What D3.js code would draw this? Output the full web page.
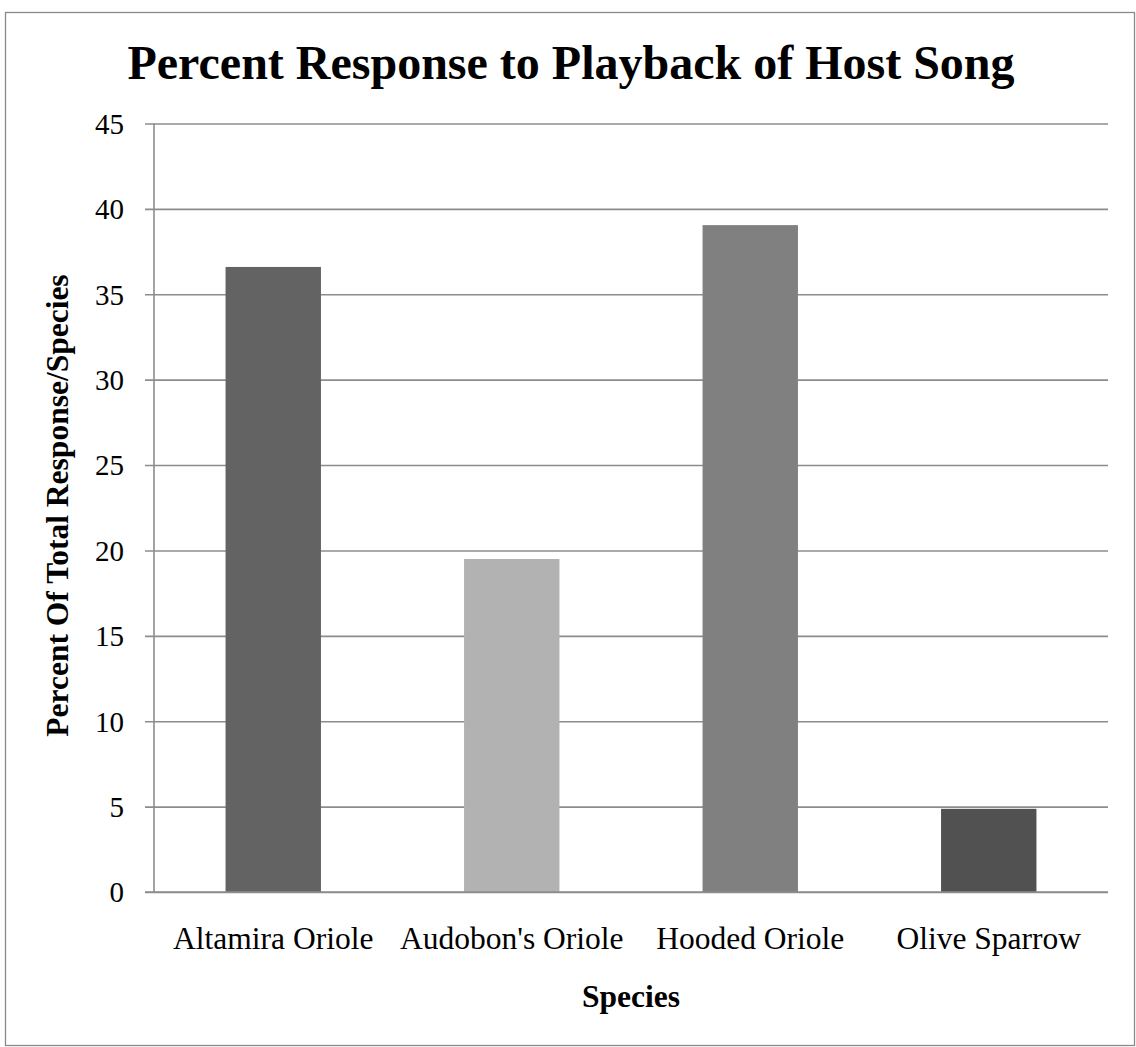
<!DOCTYPE html>
<html>
<head>
<meta charset="utf-8">
<script src="https://cdn.jsdelivr.net/npm/d3@7"></script>
<style>
  html, body { margin: 0; padding: 0; background: #fff; }
  svg { display: block; }
  text { font-family: "Liberation Serif", "Times New Roman", serif; fill: #000; }
</style>
</head>
<body>
<svg id="chart" width="1136" height="1047"></svg>
<script>
// Percent of total response per species to playback of host song
const species = ["Altamira Oriole", "Audobon's Oriole", "Hooded Oriole", "Olive Sparrow"];
const percentResponse = [36.6, 19.5, 39.05, 4.87];
const barColors = ["#636363", "#b2b2b2", "#808080", "#515151"];
const yTicks = [0, 5, 10, 15, 20, 25, 30, 35, 40, 45];

const svg = d3.select("#chart");
const plot = { left: 154, right: 1108, top: 123.5, bottom: 892 };
const gridColor = "#8c8c8c";

// outer frame
svg.append("rect")
  .attr("x", 5.5).attr("y", 12.5)
  .attr("width", 1129).attr("height", 1033)
  .attr("fill", "#fff").attr("stroke", "#8a8a8a").attr("stroke-width", 1.3);

const x = d3.scaleBand()
  .domain(species)
  .range([plot.left, plot.right])
  .paddingInner(0.6)
  .paddingOuter(0.3);

const y = d3.scaleLinear()
  .domain([0, 45])
  .range([plot.bottom, plot.top]);

// horizontal gridlines with left tick marks
const yAxis = d3.axisLeft(y)
  .tickValues(yTicks)
  .tickSize(-(plot.right - plot.left))
  .tickSizeOuter(0)
  .tickPadding(30)
  .tickFormat(d3.format("d"));

const gy = svg.append("g")
  .attr("transform", `translate(${plot.left},0)`)
  .call(yAxis);
gy.select(".domain").remove();
gy.selectAll(".tick line")
  .attr("x1", -9)
  .attr("stroke", gridColor).attr("stroke-width", 1.6);
gy.selectAll(".tick text")
  .attr("font-size", 29)
  .attr("dy", "0.34em")
  .style("font-family", "'Liberation Serif', serif");

// vertical axis line
svg.append("line")
  .attr("x1", plot.left).attr("x2", plot.left)
  .attr("y1", plot.top).attr("y2", plot.bottom)
  .attr("stroke", gridColor).attr("stroke-width", 1.6);

// bars
svg.append("g").selectAll("rect")
  .data(species)
  .join("rect")
  .attr("x", d => x(d))
  .attr("width", x.bandwidth())
  .attr("y", (d, i) => y(percentResponse[i]))
  .attr("height", (d, i) => y(0) - y(percentResponse[i]))
  .attr("fill", (d, i) => barColors[i]);

// baseline drawn over the bars
svg.append("line")
  .attr("x1", plot.left - 9).attr("x2", plot.right)
  .attr("y1", y(0)).attr("y2", y(0))
  .attr("stroke", gridColor).attr("stroke-width", 1.6);

// category labels
const xAxis = d3.axisBottom(x).tickSize(0).tickPadding(0);
const gx = svg.append("g")
  .attr("transform", `translate(0,${plot.bottom})`)
  .call(xAxis);
gx.select(".domain").remove();
gx.selectAll(".tick text")
  .attr("y", 57)
  .attr("dy", 0)
  .attr("font-size", 31.5)
  .style("font-family", "'Liberation Serif', serif");

// title
svg.append("text")
  .attr("x", 571).attr("y", 79)
  .attr("text-anchor", "middle")
  .attr("font-size", 48)
  .attr("font-weight", "bold")
  .text("Percent Response to Playback of Host Song");

// axis titles
svg.append("text")
  .attr("x", 631).attr("y", 1007)
  .attr("text-anchor", "middle")
  .attr("font-size", 31.5)
  .attr("font-weight", "bold")
  .text("Species");

svg.append("text")
  .attr("transform", "translate(68,505.5) rotate(-90)")
  .attr("text-anchor", "middle")
  .attr("font-size", 31.5)
  .attr("font-weight", "bold")
  .text("Percent Of Total Response/Species");
</script>
</body>
</html>
